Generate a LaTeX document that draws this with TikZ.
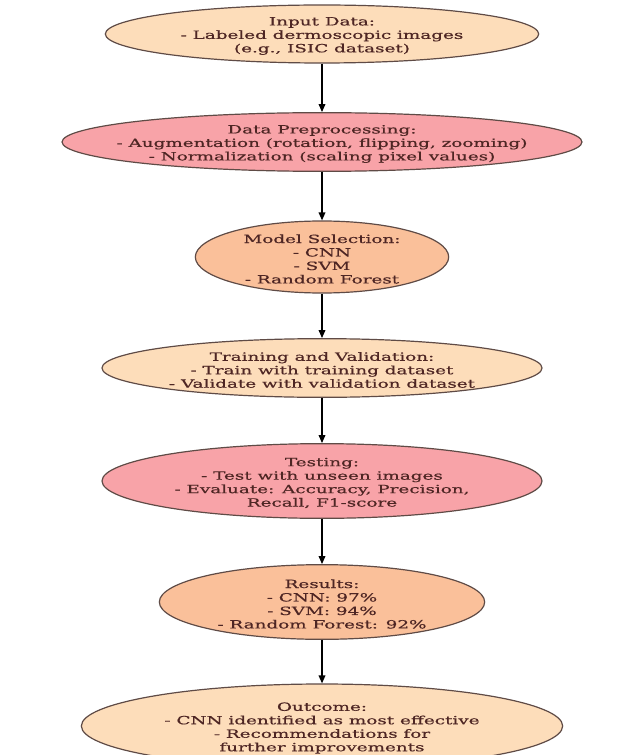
\documentclass[tikz,border=0pt]{standalone}
\usepackage{fontspec}
\setmainfont[FakeStretch=1.62,FakeBold=0.6]{DejaVu Serif}
\usetikzlibrary{shapes.geometric,arrows.meta}

\definecolor{peach}{RGB}{253,221,186}
\definecolor{rose}{RGB}{248,163,168}
\definecolor{salmon}{RGB}{250,192,154}
\definecolor{inktext}{RGB}{78,38,36}
\definecolor{rim}{RGB}{95,75,70}

\begin{document}
\begin{tikzpicture}[x=0.75pt,y=-0.75pt,
	stage/.style={ellipse,draw=rim,line width=0.9pt,inner sep=0pt},
	words/.style={align=center,text=inktext,yshift=-1.5pt,inner sep=0pt,
		font=\fontsize{8.5}{10.1}\selectfont},
	flow/.style={line width=1pt,-{Triangle[length=6pt,width=5pt]}}]
	\useasboundingbox (0,0) rectangle (639,755);
	\fill[white] (0,0) rectangle (639,755);
	% stages, top to bottom
	\node[stage,fill=peach,minimum width=325pt,minimum height=43.5pt,
	label={[words]center:Input Data:\\- Labeled dermoscopic images\\(e.g., ISIC dataset)}] (inp) at (322,34) {};
	\node[stage,fill=rose,minimum width=390pt,minimum height=44pt,
	label={[words]center:Data Preprocessing:\\- Augmentation (rotation, flipping, zooming)\\- Normalization (scaling pixel values)}] (prep) at (322,142) {};
	\node[stage,fill=salmon,minimum width=190pt,minimum height=54pt,
	label={[words]center:Model Selection:\\- CNN\\- SVM\\- Random Forest}] (model) at (322,257) {};
	\node[stage,fill=peach,minimum width=330pt,minimum height=44pt,
	label={[words]center:Training and Validation:\\- Train with training dataset\\- Validate with validation dataset}] (train) at (322,368) {};
	\node[stage,fill=rose,minimum width=330pt,minimum height=56pt,
	label={[words]center:Testing:\\- Test with unseen images\\- Evaluate: Accuracy, Precision,\\Recall, F1-score}] (test) at (322,481) {};
	\node[stage,fill=salmon,minimum width=244pt,minimum height=56pt,
	label={[words]center:Results:\\- CNN: 97\%\\- SVM: 94\%\\- Random Forest: 92\%}] (res) at (322,602) {};
	\node[stage,fill=peach,minimum width=361pt,minimum height=63pt,
	label={[words]center:Outcome:\\- CNN identified as most effective\\- Recommendations for\\further improvements}] (out) at (322,726) {};
	% connectors
	\draw[flow] (inp) -- (prep);
	\draw[flow] (prep) -- (model);
	\draw[flow] (model) -- (train);
	\draw[flow] (train) -- (test);
	\draw[flow] (test) -- (res);
	\draw[flow] (res) -- (out);
\end{tikzpicture}
\end{document}
